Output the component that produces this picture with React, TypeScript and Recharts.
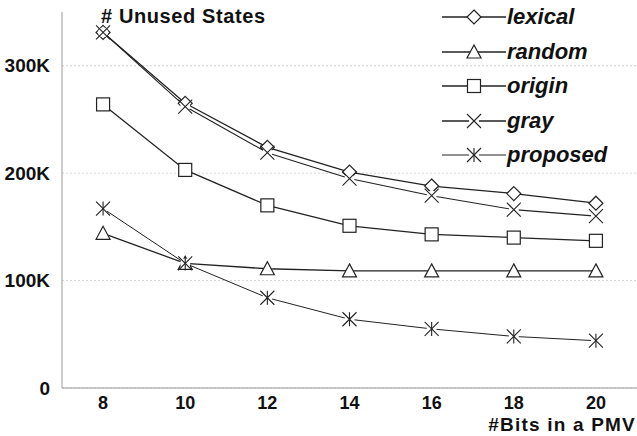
import { LineChart, Line, XAxis, YAxis, CartesianGrid } from 'recharts';

const bits = [8, 10, 12, 14, 16, 18, 20];
const lexical = [331000, 265000, 224000, 201000, 188000, 181000, 172000];
const random = [144000, 116000, 111000, 109000, 109000, 109000, 109000];
const origin = [264000, 203000, 170000, 151000, 143000, 140000, 137000];
const gray = [331000, 262000, 219000, 195000, 179000, 166000, 160000];
const proposed = [167000, 116000, 84000, 64000, 55000, 48000, 44000];
const yTicks = [0, 100000, 200000, 300000];

const data = bits.map((b, i) => ({
  bits: b,
  lexical: lexical[i],
  random: random[i],
  origin: origin[i],
  gray: gray[i],
  proposed: proposed[i],
}));

const INK = '#222';
const FONT = '"Liberation Sans", Arial, sans-serif';

type Kind = 'diamond' | 'triangle' | 'square' | 'cross' | 'star';

function Marker({ kind, cx, cy }: { kind: Kind; cx: number; cy: number }) {
  const s = 7;
  if (kind === 'diamond')
    return <path d={`M${cx},${cy - s} L${cx + s},${cy} L${cx},${cy + s} L${cx - s},${cy} Z`} fill="#fff" stroke={INK} strokeWidth={1.2} />;
  if (kind === 'triangle')
    return <path d={`M${cx},${cy - s} L${cx + s},${cy + s - 1} L${cx - s},${cy + s - 1} Z`} fill="#fff" stroke={INK} strokeWidth={1.2} />;
  if (kind === 'square')
    return <rect x={cx - 6.5} y={cy - 6.5} width={13} height={13} fill="#fff" stroke={INK} strokeWidth={1.2} />;
  return (
    <g>
      <circle cx={cx} cy={cy} r={5} fill="#fff" />
      <path d={`M${cx - s},${cy - s} L${cx + s},${cy + s} M${cx - s},${cy + s} L${cx + s},${cy - s}`} stroke={INK} strokeWidth={1.1} />
      {kind === 'star' && <path d={`M${cx},${cy - s} L${cx},${cy + s}`} stroke={INK} strokeWidth={1.1} />}
    </g>
  );
}

const series: { key: 'lexical' | 'random' | 'origin' | 'gray' | 'proposed'; kind: Kind; width: number }[] = [
  { key: 'lexical', kind: 'diamond', width: 1.3 },
  { key: 'random', kind: 'triangle', width: 1.3 },
  { key: 'origin', kind: 'square', width: 1.3 },
  { key: 'gray', kind: 'cross', width: 1.1 },
  { key: 'proposed', kind: 'star', width: 1 },
];

const dotFor = (kind: Kind) => (p: any) => <Marker key={`${kind}-${p.index}`} kind={kind} cx={p.cx} cy={p.cy} />;

function LegendBox() {
  return (
    <div style={{ position: 'absolute', left: 442, top: 0, fontFamily: FONT }}>
      {series.map((s) => (
        <div key={s.key} style={{ display: 'flex', alignItems: 'center', height: 34.5 }}>
          <svg width={64} height={20}>
            <line x1={0} y1={10} x2={64} y2={10} stroke={INK} strokeWidth={s.width + 0.2} />
            <Marker kind={s.kind} cx={32} cy={10} />
          </svg>
          <span style={{ fontSize: 22, fontWeight: 'bold', fontStyle: 'italic', color: '#111', marginLeft: 1 }}>{s.key}</span>
        </div>
      ))}
    </div>
  );
}

const fmt = (v: number) => (v === 0 ? '0' : `${v / 1000}K`);

export default function App() {
  return (
    <div style={{ position: 'absolute', left: 0, top: 0, width: 637, height: 436, background: '#fff' }}>
      <LineChart width={637} height={436} data={data} margin={{ top: 12, right: 0, bottom: 0, left: 0 }}>
        <CartesianGrid vertical={false} horizontalValues={yTicks} stroke="#d4d4d4" strokeDasharray="2 2" />
        <XAxis
          dataKey="bits"
          type="number"
          domain={[7, 21]}
          ticks={bits}
          tickLine={false}
          axisLine={{ stroke: '#999' }}
          height={48}
          tickMargin={2}
          tick={{ fill: '#111', fontSize: 18, fontWeight: 'bold', fontFamily: FONT }}
        />
        <YAxis
          domain={[0, 350000]}
          ticks={yTicks}
          tickFormatter={fmt}
          tickLine={false}
          axisLine={{ stroke: '#999' }}
          width={62}
          tickMargin={6}
          tick={{ fill: '#111', fontSize: 19, fontWeight: 'bold', fontFamily: FONT }}
        />
        {series.map((s) => (
          <Line
            key={s.key}
            dataKey={s.key}
            type="linear"
            stroke={INK}
            strokeWidth={s.width}
            dot={dotFor(s.kind)}
            isAnimationActive={false}
          />
        ))}
      </LineChart>
      <LegendBox />
      <div style={{ position: 'absolute', left: 101, top: 5, fontFamily: FONT, fontWeight: 'bold', fontSize: 20, color: '#111', letterSpacing: 0.6 }}>
        # Unused States
      </div>
      <div style={{ position: 'absolute', right: 1, top: 415, lineHeight: 1, fontFamily: FONT, fontWeight: 'bold', fontSize: 19, color: '#111', letterSpacing: 1.2 }}>
        #Bits in a PMV
      </div>
    </div>
  );
}
